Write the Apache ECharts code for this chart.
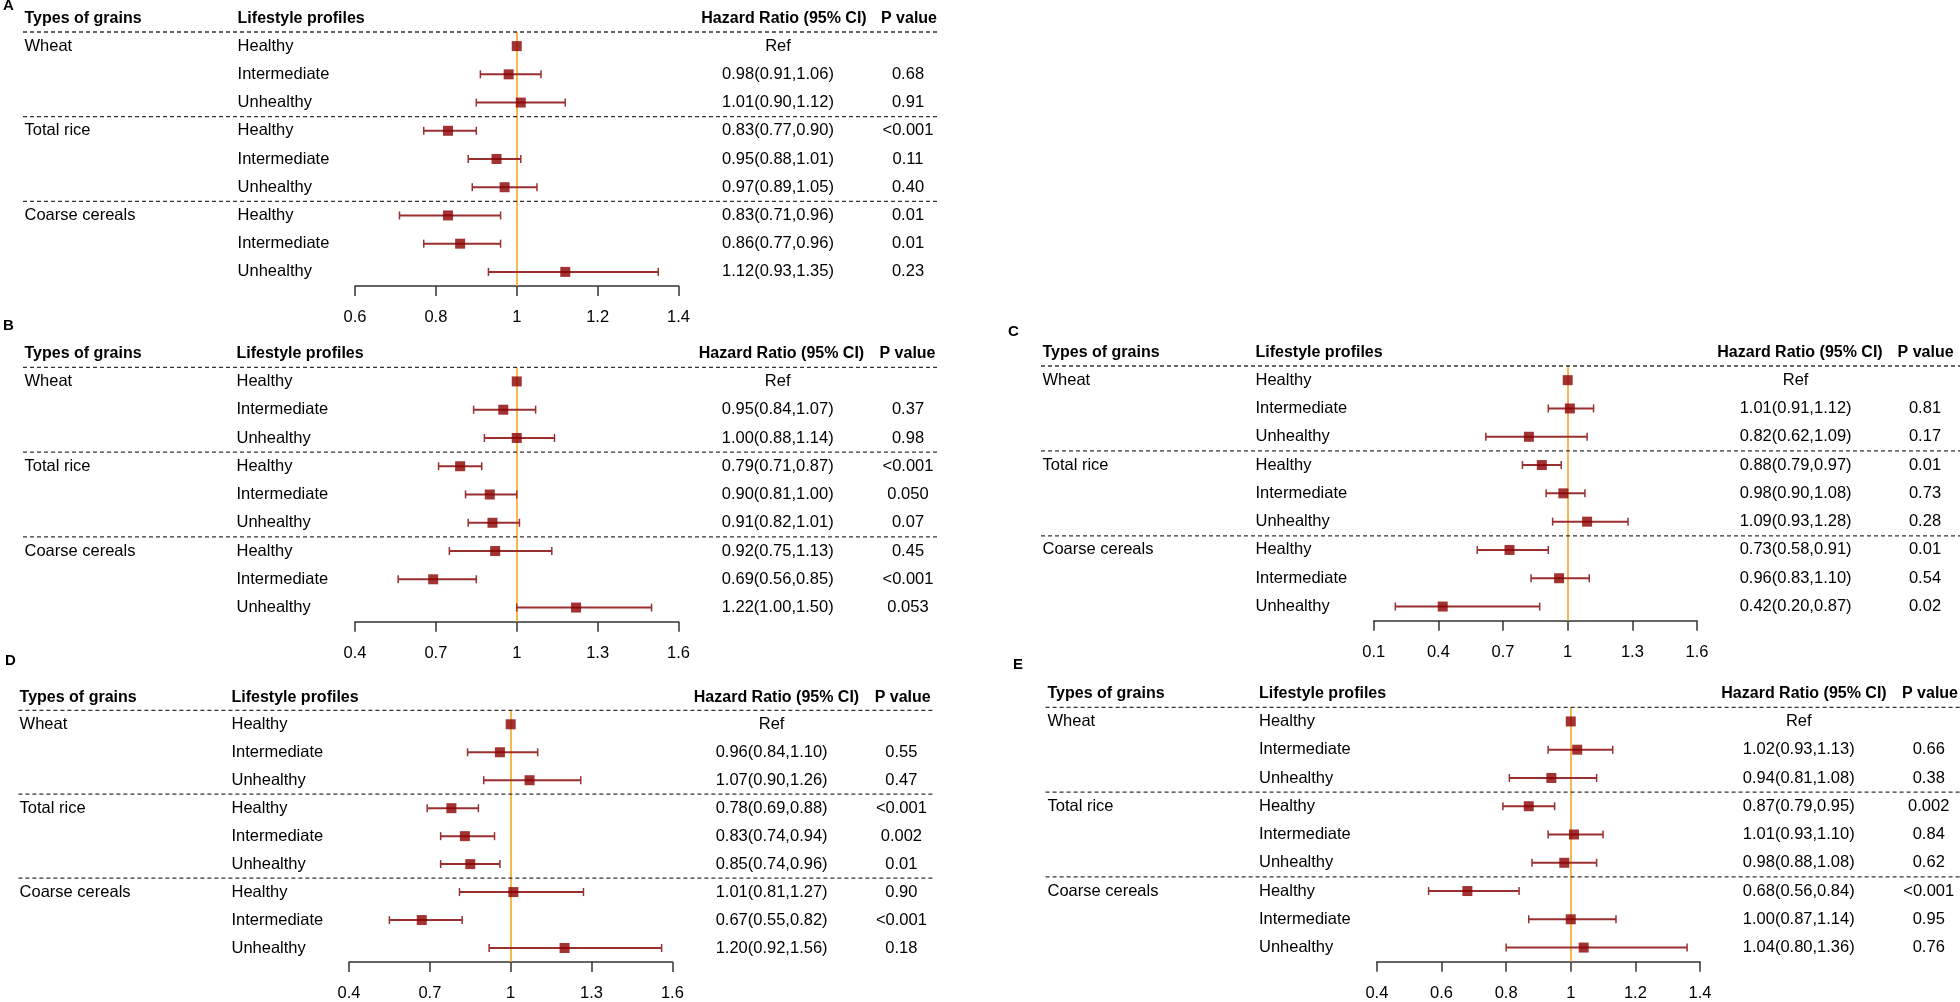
<!DOCTYPE html>
<html><head><meta charset="utf-8">
<script src="https://cdn.jsdelivr.net/npm/echarts@6/dist/echarts.min.js"></script>
<style>html,body{margin:0;padding:0;background:#fff}#c{width:1960px;height:1002px}</style>
</head><body><div id="c"></div>
<script>
// ---------- data ----------
const groups = ['Wheat', 'Total rice', 'Coarse cereals'];
const profiles = ['Healthy', 'Intermediate', 'Unhealthy'];
const headers = ['Types of grains', 'Lifestyle profiles', 'Hazard Ratio (95% CI)', 'P value'];
const panelLetters = ['A', 'B', 'C', 'D', 'E'];

const hrA = [1, 0.98, 1.01, 0.83, 0.95, 0.97, 0.83, 0.86, 1.12];
const loA = [null, 0.91, 0.90, 0.77, 0.88, 0.89, 0.71, 0.77, 0.93];
const hiA = [null, 1.06, 1.12, 0.90, 1.01, 1.05, 0.96, 0.96, 1.35];
const pA  = ['', '0.68', '0.91', '<0.001', '0.11', '0.40', '0.01', '0.01', '0.23'];

const hrB = [1, 0.95, 1.00, 0.79, 0.90, 0.91, 0.92, 0.69, 1.22];
const loB = [null, 0.84, 0.88, 0.71, 0.81, 0.82, 0.75, 0.56, 1.00];
const hiB = [null, 1.07, 1.14, 0.87, 1.00, 1.01, 1.13, 0.85, 1.50];
const pB  = ['', '0.37', '0.98', '<0.001', '0.050', '0.07', '0.45', '<0.001', '0.053'];

const hrC = [1, 1.01, 0.82, 0.88, 0.98, 1.09, 0.73, 0.96, 0.42];
const loC = [null, 0.91, 0.62, 0.79, 0.90, 0.93, 0.58, 0.83, 0.20];
const hiC = [null, 1.12, 1.09, 0.97, 1.08, 1.28, 0.91, 1.10, 0.87];
const pC  = ['', '0.81', '0.17', '0.01', '0.73', '0.28', '0.01', '0.54', '0.02'];

const hrD = [1, 0.96, 1.07, 0.78, 0.83, 0.85, 1.01, 0.67, 1.20];
const loD = [null, 0.84, 0.90, 0.69, 0.74, 0.74, 0.81, 0.55, 0.92];
const hiD = [null, 1.10, 1.26, 0.88, 0.94, 0.96, 1.27, 0.82, 1.56];
const pD  = ['', '0.55', '0.47', '<0.001', '0.002', '0.01', '0.90', '<0.001', '0.18'];

const hrE = [1, 1.02, 0.94, 0.87, 1.01, 0.98, 0.68, 1.00, 1.04];
const loE = [null, 0.93, 0.81, 0.79, 0.93, 0.88, 0.56, 0.87, 0.80];
const hiE = [null, 1.13, 1.08, 0.95, 1.10, 1.08, 0.84, 1.14, 1.36];
const pE  = ['', '0.66', '0.38', '0.002', '0.84', '0.62', '<0.001', '0.95', '0.76'];

const ticksA = [0.6, 0.8, 1, 1.2, 1.4];
const ticksB = [0.4, 0.7, 1, 1.3, 1.6];
const ticksC = [0.1, 0.4, 0.7, 1, 1.3, 1.6];
const ticksD = [0.4, 0.7, 1, 1.3, 1.6];
const ticksE = [0.4, 0.6, 0.8, 1, 1.2, 1.4];
const refValue = 1;

// ---------- layout / style ----------
const FONT = '"Liberation Sans", Arial, sans-serif';
const BODY = 16.5, HEAD = 16, TICK = 16.5;
const CI_COLOR = '#9a2f2f';
const panels = [
  {hr: hrA, lo: loA, hi: hiA, p: pA, ticks: ticksA,
   grid: {left: 355, top: 32, width: 323.5, height: 254},
   gx: 24.5, lx: 237.6, hrx: 778, px: 908, hhx: 784, phx: 909, x0: 23, x1: 940, letter: [3, 6]},
  {hr: hrB, lo: loB, hi: hiB, p: pB, ticks: ticksB,
   grid: {left: 355, top: 367.3, width: 323.5, height: 254.4},
   gx: 24.5, lx: 236.5, hrx: 777.7, px: 908, hhx: 781.5, phx: 907.5, x0: 23, x1: 940, letter: [3, 326]},
  {hr: hrC, lo: loC, hi: hiC, p: pC, ticks: ticksC,
   grid: {left: 1373.75, top: 366, width: 323.25, height: 254.7},
   gx: 1042.5, lx: 1255.5, hrx: 1795.6, px: 1925, hhx: 1800, phx: 1925.6, x0: 1041, x1: 1960, letter: [1008, 332]},
  {hr: hrD, lo: loD, hi: hiD, p: pD, ticks: ticksD,
   grid: {left: 349, top: 710.3, width: 323.4, height: 254.7},
   gx: 19.6, lx: 231.5, hrx: 771.6, px: 901.4, hhx: 776.5, phx: 902.7, x0: 18.4, x1: 934, letter: [5, 661]},
  {hr: hrE, lo: loE, hi: hiE, p: pE, ticks: ticksE,
   grid: {left: 1376.9, top: 707.3, width: 323.1, height: 254.4},
   gx: 1047.5, lx: 1259, hrx: 1798.75, px: 1928.75, hhx: 1804, phx: 1930, x0: 1045.6, x1: 1960, letter: [1013, 665]}
];

function txt(text, x, y, align, bold, size) {
  return {type: 'text', silent: true, style: {
    text: text, x: x, y: y, fill: '#000',
    font: (bold ? 'bold ' : '') + size + 'px ' + FONT,
    align: align, verticalAlign: 'middle', textAlign: align, textVerticalAlign: 'middle'
  }};
}
function hrText(P, i) {
  if (P.lo[i] == null) return 'Ref';
  return P.hr[i].toFixed(2) + '(' + P.lo[i].toFixed(2) + ',' + P.hi[i].toFixed(2) + ')';
}

function renderCI(params, api) {
  const a = api.coord([api.value(0), api.value(2)]);
  const b = api.coord([api.value(1), api.value(2)]);
  const c = 4;
  return {type: 'group', children: [
    {type: 'line', shape: {x1: a[0], y1: a[1], x2: b[0], y2: b[1]}, style: {stroke: CI_COLOR, lineWidth: 2}},
    {type: 'line', shape: {x1: a[0], y1: a[1] - c, x2: a[0], y2: a[1] + c}, style: {stroke: CI_COLOR, lineWidth: 1.5}},
    {type: 'line', shape: {x1: b[0], y1: b[1] - c, x2: b[0], y2: b[1] + c}, style: {stroke: CI_COLOR, lineWidth: 1.5}}
  ]};
}

function makeTable(P) {
  return function (params, api) {
    const i = api.value(1);
    const xmin = api.value(0);
    const y = api.coord([xmin, i])[1];
    const ch = [];
    if (i % 3 === 0) {
      ch.push(txt(groups[i / 3], P.gx, y, 'left', false, BODY));
      const yl = api.coord([xmin, i - 0.5])[1];
      ch.push({type: 'line', silent: true, shape: {x1: P.x0, y1: yl, x2: P.x1, y2: yl},
        style: {stroke: '#333', lineWidth: 1.3, lineDash: [4, 3]}});
    }
    if (i === 0) {
      const yh = api.coord([xmin, -0.97])[1];
      ch.push(txt(headers[0], P.gx, yh, 'left', true, HEAD));
      ch.push(txt(headers[1], P.lx, yh, 'left', true, HEAD));
      ch.push(txt(headers[2], P.hhx, yh, 'center', true, HEAD));
      ch.push(txt(headers[3], P.phx, yh, 'center', true, HEAD));
    }
    ch.push(txt(profiles[i % 3], P.lx, y, 'left', false, BODY));
    ch.push(txt(hrText(P, i), P.hrx, y, 'center', false, BODY));
    ch.push(txt(P.p[i], P.px, y, 'center', false, BODY));
    return {type: 'group', children: ch};
  };
}

const grids = [], xAxes = [], yAxes = [], series = [], graphics = [];
panels.forEach(function (P, k) {
  grids.push(P.grid);
  const t = P.ticks;
  xAxes.push({
    gridIndex: k, type: 'value', min: t[0], max: t[t.length - 1],
    axisLine: {show: true, onZero: false, lineStyle: {color: '#333', width: 1.5}},
    axisTick: {show: true, inside: false, length: 10, customValues: t, lineStyle: {color: '#333', width: 1.5}},
    axisLabel: {customValues: t, margin: 23, fontSize: TICK, color: '#000', fontFamily: FONT},
    splitLine: {show: false}
  });
  yAxes.push({gridIndex: k, type: 'value', min: -0.5, max: 8.5, inverse: true, show: false,
    splitLine: {show: false}});
  const rows = P.hr.map(function (v, i) { return i; });
  series.push({
    type: 'line', xAxisIndex: k, yAxisIndex: k, data: [], silent: true, z: 1,
    markLine: {silent: true, z: 1, symbol: ['none', 'none'], label: {show: false},
      lineStyle: {color: '#F5A623', width: 1.6, type: 'solid'}, data: [{xAxis: refValue}]}
  });
  series.push({
    type: 'custom', xAxisIndex: k, yAxisIndex: k, z: 3, silent: true,
    renderItem: renderCI, encode: {x: [0, 1], y: 2},
    data: rows.filter(function (i) { return P.lo[i] != null; })
              .map(function (i) { return [P.lo[i], P.hi[i], i]; })
  });
  series.push({
    type: 'scatter', xAxisIndex: k, yAxisIndex: k, z: 6, silent: true,
    symbol: 'rect', symbolSize: 10, itemStyle: {color: '#8B0000'},
    data: rows.map(function (i) { return [P.hr[i], i]; })
  });
  series.push({
    type: 'custom', xAxisIndex: k, yAxisIndex: k, z: 2, silent: true, clip: false,
    renderItem: makeTable(P), encode: {x: 0, y: 1},
    data: rows.map(function (i) { return [t[0], i]; })
  });
  graphics.push({type: 'text', x: P.letter[0], y: P.letter[1], silent: true,
    style: {text: panelLetters[k], fill: '#000', font: 'bold 15px ' + FONT,
      verticalAlign: 'middle', textVerticalAlign: 'middle'}});
});

const chart = echarts.init(document.getElementById('c'), null, {renderer: 'canvas'});
chart.setOption({
  animation: false,
  backgroundColor: '#fff',
  grid: grids, xAxis: xAxes, yAxis: yAxes, series: series, graphic: graphics
});
</script>
</body></html>
